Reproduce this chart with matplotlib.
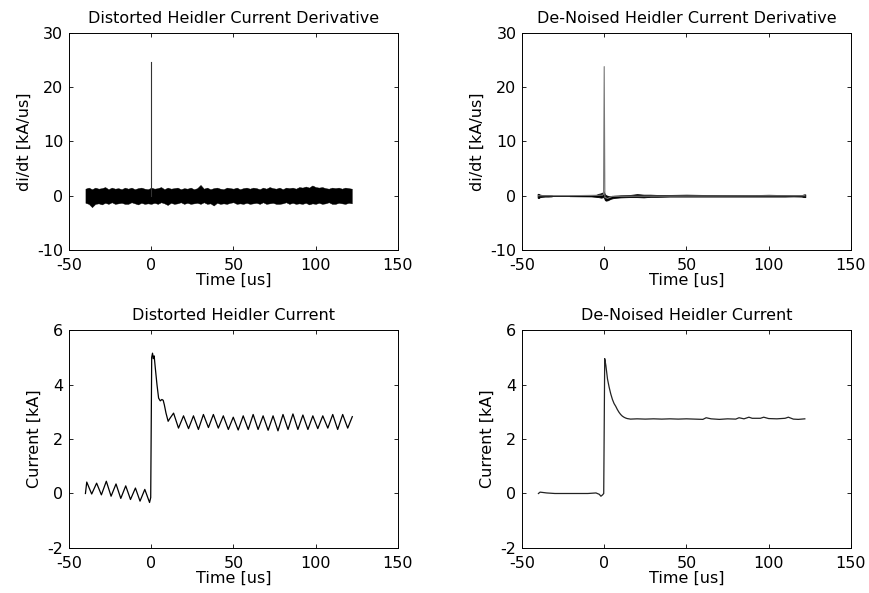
import numpy as np
import matplotlib
matplotlib.use('Agg')
import matplotlib.pyplot as plt

plt.rcParams['font.family'] = ['DejaVu Sans']
plt.rcParams['axes.unicode_minus'] = False

###########################################################
# distorted derivative: noise band envelope + spike

tl_t = [-40, -38, -36, -34, -32, -30, -28, -26, -24, -22,
        -20, -18, -16, -14, -12, -10, -8, -6, -4, -2,
        0, 2, 4, 6, 8, 10, 12, 14, 16, 18,
        20, 22, 24, 26, 28, 30, 32, 34, 36, 38,
        40, 42, 44, 46, 48, 50, 52, 54, 56, 58,
        60, 62, 64, 66, 68, 70, 72, 74, 76, 78,
        80, 82, 84, 86, 88, 90, 92, 94, 96, 98,
        100, 102, 104, 106, 108, 110, 112, 114, 116, 118,
        120, 122]
tl_hi = [1.3, 1.5, 1.2, 1.5, 1.3, 1.4, 1.6, 1.2, 1.5, 1.3,
         1.4, 1.2, 1.5, 1.3, 1.5, 1.2, 1.4, 1.5, 1.3, 1.2,
         1.5, 1.3, 1.4, 1.6, 1.2, 1.5, 1.3, 1.4, 1.5, 1.2,
         1.4, 1.3, 1.5, 1.2, 1.4, 2.0, 1.3, 1.5, 1.2, 1.4,
         1.5, 1.3, 1.2, 1.5, 1.4, 1.3, 1.5, 1.2, 1.4, 1.5,
         1.3, 1.5, 1.4, 1.2, 1.5, 1.3, 1.6, 1.4, 1.3, 1.5,
         1.2, 1.5, 1.4, 1.5, 1.3, 1.6, 1.5, 1.7, 1.5, 1.9,
         1.6, 1.5, 1.6, 1.4, 1.3, 1.5, 1.4, 1.5, 1.3, 1.5,
         1.4, 1.3]
tl_lo = [-1.3, -1.5, -2.1, -1.5, -1.4, -1.6, -1.3, -1.5, -1.2, -1.5,
         -1.4, -1.3, -1.5, -1.5, -1.2, -1.4, -1.6, -1.3, -1.5, -1.4,
         -1.5, -1.3, -1.5, -1.2, -1.4, -1.7, -1.3, -1.5, -1.4, -1.2,
         -1.5, -1.3, -1.5, -1.4, -1.3, -1.5, -1.2, -1.5, -1.4, -1.8,
         -1.3, -1.5, -1.4, -1.5, -1.3, -1.2, -1.5, -1.4, -1.5, -1.3,
         -1.5, -1.4, -1.3, -1.5, -1.2, -1.5, -1.4, -1.3, -1.5, -1.5,
         -1.4, -1.2, -1.5, -1.3, -1.5, -1.4, -1.5, -1.3, -1.6, -1.4,
         -1.5, -1.3, -1.5, -1.4, -1.2, -1.5, -1.5, -1.3, -1.4, -1.5,
         -1.3, -1.4]
tl_spike_t = 0.0
tl_spike_top = 24.7

# de-noised derivative
tr_t = [-40, -31, -22, -1, -0.4, 0, 0.4, 2, 5, 122]
tr_y = [0, 0, 0, 0.1, 0.3, 23.8, -0.3, -0.5, -0.1, 0]
tr_env_t = [-40.5, -40, -39, -38, -36, -34, -32, -31, -22, -21, -15, -8, -5, -3.5,
            -2, -1, -0.3, 0.4, 1, 2, 3, 4, 6, 10, 15, 20, 24, 28, 32, 40,
            50, 60, 70, 80, 90, 100, 110, 115, 120, 121.5, 122.3]
tr_env_hi = [0.35, 0.35, 0.2, 0.15, 0.12, 0.12, 0.1, 0, 0, 0.05, 0.06, 0.08, 0.15, 0.35,
             0.45, 0.6, 0.8, 0.3, 0.1, 0.0, -0.1, -0.1, 0.0, 0.08, 0.12, 0.3, 0.2, 0.2, 0.15, 0.15,
             0.2, 0.15, 0.12, 0.12, 0.12, 0.18, 0.12, 0.12, 0.12, 0.25, 0.25]
tr_env_lo = [-0.35, -0.45, -0.25, -0.2, -0.15, -0.15, -0.12, 0, 0, -0.08, -0.1, -0.12, -0.2, -0.25,
             -0.35, -0.3, -0.2, -0.8, -0.9, -0.85, -0.7, -0.55, -0.4, -0.3, -0.25, -0.25, -0.3, -0.2, -0.2, -0.15,
             -0.15, -0.15, -0.15, -0.15, -0.15, -0.15, -0.15, -0.12, -0.15, -0.25, -0.25]

# distorted current
bl_t = [-40, -39.2, -36.2, -33.2, -30.3, -27.3, -24.4, -21.4, -18.5, -15.5,
        -12.6, -9.6, -6.8, -3.9, -1.0, -0.3, 0.3, 0.8, 1.3, 1.8,
        2.5, 3.5, 4.5, 5.5, 6.5, 7.3, 8.0, 9.0, 10.3, 11.3,
        13.6, 16.6, 19.65, 22.7, 25.7, 28.7, 31.75, 34.8, 37.8, 40.8,
        43.85, 46.9, 49.9, 52.9, 55.95, 59.0, 62.0, 65.0, 68.05, 71.1,
        74.1, 77.1, 80.15, 83.2, 86.2, 89.2, 92.25, 95.3, 98.3, 101.3,
        104.35, 107.4, 110.4, 113.4, 116.45, 119.5, 122.3]
bl_i = [0.0, 0.42, -0.02, 0.38, -0.05, 0.45, -0.1, 0.35, -0.18, 0.28,
        -0.22, 0.2, -0.28, 0.15, -0.33, -0.15, 5.0, 5.15, 4.95, 5.05,
        4.6, 4.0, 3.5, 3.4, 3.45, 3.42, 3.25, 2.95, 2.65, 2.75,
        2.95, 2.4, 2.85, 2.38, 2.85, 2.35, 2.9, 2.42, 2.9, 2.4,
        2.85, 2.35, 2.8, 2.33, 2.85, 2.35, 2.9, 2.35, 2.85, 2.32,
        2.85, 2.3, 2.9, 2.35, 2.92, 2.35, 2.88, 2.35, 2.85, 2.38,
        2.85, 2.4, 2.9, 2.35, 2.9, 2.4, 2.82]

# de-noised current
br_t = [-40, -39, -35, -30, -20, -10, -5, -3, -2, -1, -0.3, 0.3, 1, 2, 3, 4,
        5, 6, 7, 8, 9, 10, 11, 12, 13, 14, 15, 16, 20, 25, 30, 35, 40, 45,
        50, 55, 60, 62, 65, 70, 75, 80, 82, 85, 88, 90, 95, 97, 100, 105,
        110, 112, 115, 118, 122]
br_i = [0.0, 0.05, 0.02, 0.0, 0.0, 0.0, 0.02, -0.03, -0.1, -0.05, 0.0, 4.95, 4.7, 4.2, 3.9, 3.65,
        3.45, 3.3, 3.2, 3.08, 2.98, 2.9, 2.84, 2.8, 2.77, 2.75, 2.74, 2.73, 2.74, 2.73, 2.74, 2.73, 2.74, 2.73,
        2.74, 2.73, 2.72, 2.78, 2.74, 2.72, 2.74, 2.73, 2.78, 2.74, 2.8, 2.76, 2.76, 2.8, 2.75, 2.74,
        2.76, 2.8, 2.73, 2.72, 2.74]

###########################################################

fig = plt.figure(figsize=(8.7, 5.93), dpi=100)
ax_tl = fig.add_axes([0.0793, 0.5784, 0.378, 0.366])
ax_tr = fig.add_axes([0.6, 0.5784, 0.378, 0.366])
ax_bl = fig.add_axes([0.0793, 0.0759, 0.378, 0.3676])
ax_br = fig.add_axes([0.6, 0.0759, 0.378, 0.3676])

# top left
ax_tl.fill_between(tl_t, tl_lo, tl_hi, color='black', lw=0.3)
ax_tl.plot([tl_spike_t, tl_spike_t], [0, tl_spike_top], color='#333333', lw=0.8)
ax_tl.set_title('Distorted Heidler Current Derivative')
ax_tl.set_ylabel('di/dt [kA/us]')
ax_tl.set_ylim(-10, 30)
ax_tl.set_yticks([-10, 0, 10, 20, 30])

# top right
ax_tr.plot(tr_t, tr_y, color='#777777', lw=0.8)
ax_tr.fill_between(tr_env_t, tr_env_lo, tr_env_hi, color='black', lw=0.6)
ax_tr.set_title('De-Noised Heidler Current Derivative')
ax_tr.set_ylabel('di/dt [kA/us]')
ax_tr.set_ylim(-10, 30)
ax_tr.set_yticks([-10, 0, 10, 20, 30])

# bottom left
ax_bl.plot(bl_t, bl_i, color='black', lw=0.9)
ax_bl.set_title('Distorted Heidler Current')
ax_bl.set_ylabel('Current [kA]')
ax_bl.set_ylim(-2, 6)
ax_bl.set_yticks([-2, 0, 2, 4, 6])

# bottom right
ax_br.plot(br_t, br_i, color='#222222', lw=0.9)
ax_br.set_title('De-Noised Heidler Current')
ax_br.set_ylabel('Current [kA]')
ax_br.set_ylim(-2, 6)
ax_br.set_yticks([-2, 0, 2, 4, 6])

for ax in [ax_tl, ax_tr, ax_bl, ax_br]:
    ax.set_xlim(-50, 150)
    ax.set_xticks([-50, 0, 50, 100, 150])
    ax.set_xlabel('Time [us]', fontsize=11.5, labelpad=0)
    ax.yaxis.label.set_size(11.5)
    ax.set_title(ax.get_title(), fontsize=11.5, pad=7)
    ax.tick_params(direction='in', length=3, width=0.6, labelsize=11.5, pad=4,
                   top=True, right=True)
    ax.tick_params(axis='x', pad=5.5)
    for s in ax.spines.values():
        s.set_linewidth(0.7)

fig.savefig('out.png', dpi=100)
